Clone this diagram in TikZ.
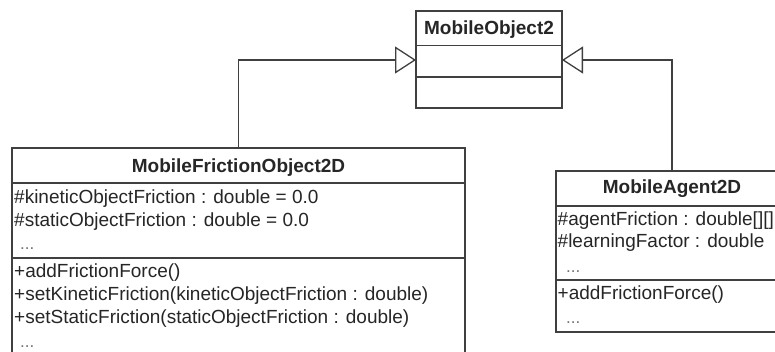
\documentclass[tikz,border=0pt]{standalone}
\usepackage{fontspec}
\setmainfont{Liberation Sans}
\usetikzlibrary{arrows.meta}
\definecolor{linec}{gray}{0.25}
\definecolor{txt}{gray}{0.15}
\definecolor{dotc}{gray}{0.45}
\tikzset{
  classbox/.style={draw=linec, line width=1.3pt, fill=white, inner sep=0pt},
  sepline/.style={draw=linec, line width=1.3pt},
  ctitle/.style={font=\bfseries\fontsize{19}{23}\selectfont, text=txt, anchor=base, inner sep=0pt},
  member/.style={font=\fontsize{19}{23}\selectfont, text=txt, anchor=base west, inner sep=0pt},
  dots/.style={font=\fontsize{17}{20}\selectfont, text=dotc, anchor=base west, inner sep=0pt},
  inh/.style={draw=linec, line width=1.3pt, -{Triangle[open, length=21pt, width=27pt, line width=1.3pt, fill=white]}},
}
\begin{document}
\begin{tikzpicture}[x=1pt, y=-1pt]
\useasboundingbox (0,0) rectangle (775,351);
\clip (0,0) rectangle (775,351);
\fill[white] (0,0) rectangle (775,351);

% MobileObject2
\node[classbox, minimum width=146pt, minimum height=97pt] (mo) at (489,59.5) {};
\draw[sepline] (416,45.5) -- (562,45.5);
\draw[sepline] (416,77) -- (562,77);
\node[ctitle] (motitle) at (489,34) {MobileObject2};
\coordinate (moL) at (416,60);
\coordinate (moR) at (562,60);

% MobileFrictionObject2D
\node[classbox, minimum width=453pt, minimum height=222pt] (mfo) at (238.5,259) {};
\draw[sepline] (12,183) -- (465,183);
\draw[sepline] (12,258) -- (465,258);
\node[ctitle] (mfotitle) at (238.5,172) {MobileFrictionObject2D};
\node[member] (mfoa1) at (14,203) {\#kineticObjectFriction : double = 0.0};
\node[member] (mfoa2) at (14,226) {\#staticObjectFriction : double = 0.0};
\node[dots] (mfoa3) at (20,249) {...};
\node[member] (mfom1) at (14,277) {+addFrictionForce()};
\node[member] (mfom2) at (14,300) {+setKineticFriction(kineticObjectFriction : double)};
\node[member] (mfom3) at (14,323) {+setStaticFriction(staticObjectFriction : double)};
\node[dots] (mfom4) at (20,347) {...};

% MobileAgent2D
\node[classbox, minimum width=232pt, minimum height=161pt] (ma) at (672,251.5) {};
\draw[sepline] (556,206) -- (788,206);
\draw[sepline] (556,280) -- (788,280);
\node[ctitle] (matitle) at (672,193) {MobileAgent2D};
\node[member] (maa1) at (557.5,225) {\#agentFriction : double[][]};
\node[member] (maa2) at (557.5,247.5) {\#learningFactor : double};
\node[dots] (maa3) at (566,272) {...};
\node[member] (mam1) at (557.5,299) {+addFrictionForce()};
\node[dots] (mam2) at (566,323) {...};

% generalisations
\draw[inh] (mfo.north) |- (moL);
\draw[inh] (ma.north) |- (moR);
\end{tikzpicture}
\end{document}
